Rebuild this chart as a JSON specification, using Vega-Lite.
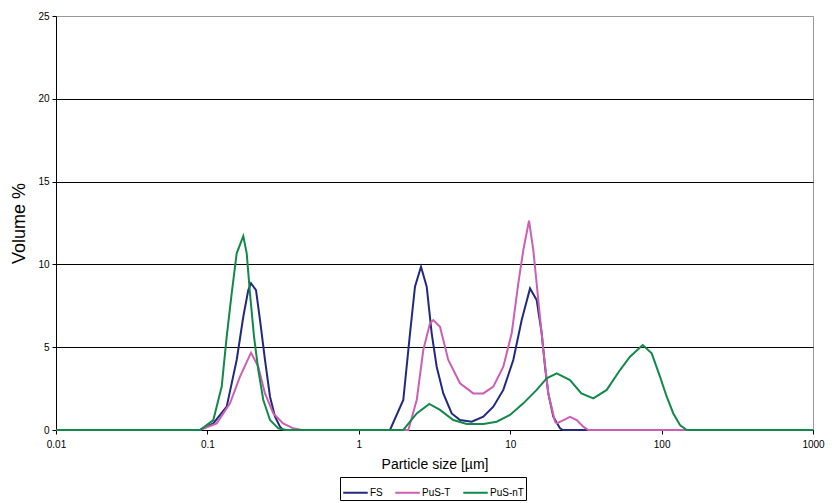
{
  "$schema": "https://vega.github.io/schema/vega-lite/v6.json",
  "autosize": "none",
  "padding": {"left": 56, "top": 16, "right": 21, "bottom": 73},
  "width": 757,
  "height": 414,
  "background": "white",
  "config": {
    "font": "Liberation Sans",
    "view": {"stroke": "#999999", "strokeWidth": 1}
  },
  "data": {"values": [
    {"x": 0.01, "y": 0, "s": "FS"}, {"x": 0.0894, "y": 0, "s": "FS"}, {"x": 0.1094, "y": 0.4, "s": "FS"}, {"x": 0.1341, "y": 1.41, "s": "FS"}, {"x": 0.1561, "y": 4.23, "s": "FS"}, {"x": 0.1726, "y": 6.84, "s": "FS"}, {"x": 0.1862, "y": 8.45, "s": "FS"}, {"x": 0.1941, "y": 8.86, "s": "FS"}, {"x": 0.2094, "y": 8.45, "s": "FS"}, {"x": 0.2226, "y": 6.64, "s": "FS"}, {"x": 0.2401, "y": 4.23, "s": "FS"}, {"x": 0.2592, "y": 2.01, "s": "FS"}, {"x": 0.2796, "y": 0.8, "s": "FS"}, {"x": 0.3016, "y": 0.2, "s": "FS"}, {"x": 0.3157, "y": 0, "s": "FS"},
    {"x": 1.607, "y": 0, "s": "FS"}, {"x": 1.967, "y": 1.81, "s": "FS"}, {"x": 2.179, "y": 5.84, "s": "FS"}, {"x": 2.35, "y": 8.65, "s": "FS"}, {"x": 2.575, "y": 9.86, "s": "FS"}, {"x": 2.809, "y": 8.65, "s": "FS"}, {"x": 3.03, "y": 5.84, "s": "FS"}, {"x": 3.269, "y": 3.82, "s": "FS"}, {"x": 3.615, "y": 2.21, "s": "FS"}, {"x": 4.107, "y": 1.0, "s": "FS"}, {"x": 4.66, "y": 0.6, "s": "FS"}, {"x": 5.568, "y": 0.5, "s": "FS"}, {"x": 6.643, "y": 0.8, "s": "FS"}, {"x": 7.734, "y": 1.41, "s": "FS"}, {"x": 9.005, "y": 2.42, "s": "FS"}, {"x": 10.48, "y": 4.23, "s": "FS"}, {"x": 11.91, "y": 6.64, "s": "FS"}, {"x": 13.52, "y": 8.55, "s": "FS"}, {"x": 14.96, "y": 7.85, "s": "FS"}, {"x": 16.15, "y": 5.84, "s": "FS"}, {"x": 16.98, "y": 3.82, "s": "FS"}, {"x": 17.85, "y": 2.21, "s": "FS"}, {"x": 19.26, "y": 0.8, "s": "FS"}, {"x": 21.33, "y": 0.1, "s": "FS"}, {"x": 22.32, "y": 0, "s": "FS"}, {"x": 1000, "y": 0, "s": "FS"},

    {"x": 0.01, "y": 0, "s": "PuS-T"}, {"x": 0.0894, "y": 0, "s": "PuS-T"}, {"x": 0.1151, "y": 0.4, "s": "PuS-T"}, {"x": 0.141, "y": 1.61, "s": "PuS-T"}, {"x": 0.1642, "y": 3.22, "s": "PuS-T"}, {"x": 0.1941, "y": 4.67, "s": "PuS-T"}, {"x": 0.2169, "y": 3.82, "s": "PuS-T"}, {"x": 0.2401, "y": 2.21, "s": "PuS-T"}, {"x": 0.2725, "y": 1.0, "s": "PuS-T"}, {"x": 0.3162, "y": 0.4, "s": "PuS-T"}, {"x": 0.3693, "y": 0.1, "s": "PuS-T"}, {"x": 0.4215, "y": 0, "s": "PuS-T"},
    {"x": 2.123, "y": 0, "s": "PuS-T"}, {"x": 2.413, "y": 1.81, "s": "PuS-T"}, {"x": 2.667, "y": 4.83, "s": "PuS-T"}, {"x": 2.953, "y": 6.44, "s": "PuS-T"}, {"x": 3.105, "y": 6.64, "s": "PuS-T"}, {"x": 3.438, "y": 6.24, "s": "PuS-T"}, {"x": 3.9, "y": 4.23, "s": "PuS-T"}, {"x": 4.66, "y": 2.82, "s": "PuS-T"}, {"x": 5.706, "y": 2.21, "s": "PuS-T"}, {"x": 6.643, "y": 2.21, "s": "PuS-T"}, {"x": 7.734, "y": 2.62, "s": "PuS-T"}, {"x": 9.005, "y": 3.82, "s": "PuS-T"}, {"x": 10.23, "y": 5.84, "s": "PuS-T"}, {"x": 11.31, "y": 8.86, "s": "PuS-T"}, {"x": 12.21, "y": 10.87, "s": "PuS-T"}, {"x": 13.31, "y": 12.64, "s": "PuS-T"}, {"x": 14.21, "y": 10.87, "s": "PuS-T"}, {"x": 15.33, "y": 7.85, "s": "PuS-T"}, {"x": 16.55, "y": 4.83, "s": "PuS-T"}, {"x": 17.85, "y": 2.21, "s": "PuS-T"}, {"x": 19.77, "y": 0.5, "s": "PuS-T"}, {"x": 20.28, "y": 0.4, "s": "PuS-T"}, {"x": 22.5, "y": 0.6, "s": "PuS-T"}, {"x": 24.83, "y": 0.8, "s": "PuS-T"}, {"x": 27.5, "y": 0.6, "s": "PuS-T"}, {"x": 30.39, "y": 0.2, "s": "PuS-T"}, {"x": 32.8, "y": 0, "s": "PuS-T"}, {"x": 1000, "y": 0, "s": "PuS-T"},

    {"x": 0.01, "y": 0, "s": "PuS-nT"}, {"x": 0.0894, "y": 0, "s": "PuS-nT"}, {"x": 0.1094, "y": 0.6, "s": "PuS-nT"}, {"x": 0.1243, "y": 2.62, "s": "PuS-nT"}, {"x": 0.1341, "y": 5.64, "s": "PuS-nT"}, {"x": 0.1447, "y": 8.25, "s": "PuS-nT"}, {"x": 0.1561, "y": 10.67, "s": "PuS-nT"}, {"x": 0.1726, "y": 11.71, "s": "PuS-nT"}, {"x": 0.1818, "y": 10.67, "s": "PuS-nT"}, {"x": 0.1911, "y": 8.25, "s": "PuS-nT"}, {"x": 0.2032, "y": 5.64, "s": "PuS-nT"}, {"x": 0.2169, "y": 3.62, "s": "PuS-nT"}, {"x": 0.234, "y": 1.81, "s": "PuS-nT"}, {"x": 0.2592, "y": 0.6, "s": "PuS-nT"}, {"x": 0.2939, "y": 0.1, "s": "PuS-nT"}, {"x": 0.3305, "y": 0, "s": "PuS-nT"},
    {"x": 1.967, "y": 0, "s": "PuS-nT"}, {"x": 2.413, "y": 1.0, "s": "PuS-nT"}, {"x": 2.922, "y": 1.57, "s": "PuS-nT"}, {"x": 3.438, "y": 1.21, "s": "PuS-nT"}, {"x": 4.209, "y": 0.6, "s": "PuS-nT"}, {"x": 5.161, "y": 0.36, "s": "PuS-nT"}, {"x": 6.643, "y": 0.36, "s": "PuS-nT"}, {"x": 8.143, "y": 0.5, "s": "PuS-nT"}, {"x": 9.97, "y": 0.91, "s": "PuS-nT"}, {"x": 12.21, "y": 1.61, "s": "PuS-nT"}, {"x": 14.96, "y": 2.42, "s": "PuS-nT"}, {"x": 17.42, "y": 3.12, "s": "PuS-nT"}, {"x": 20.28, "y": 3.42, "s": "PuS-nT"}, {"x": 24.83, "y": 3.02, "s": "PuS-nT"}, {"x": 29.5, "y": 2.21, "s": "PuS-nT"}, {"x": 35.39, "y": 1.91, "s": "PuS-nT"}, {"x": 43.39, "y": 2.42, "s": "PuS-nT"}, {"x": 53.12, "y": 3.62, "s": "PuS-nT"}, {"x": 61.83, "y": 4.43, "s": "PuS-nT"}, {"x": 75.04, "y": 5.13, "s": "PuS-nT"}, {"x": 86.02, "y": 4.63, "s": "PuS-nT"}, {"x": 97.59, "y": 3.22, "s": "PuS-nT"}, {"x": 108.1, "y": 2.01, "s": "PuS-nT"}, {"x": 119.5, "y": 1.0, "s": "PuS-nT"}, {"x": 132.3, "y": 0.3, "s": "PuS-nT"}, {"x": 146.5, "y": 0, "s": "PuS-nT"}, {"x": 1000, "y": 0, "s": "PuS-nT"}
  ]},
  "mark": {"type": "line", "strokeWidth": 2, "interpolate": "linear"},
  "encoding": {
    "x": {
      "field": "x", "type": "quantitative",
      "scale": {"type": "log", "domain": [0.01, 1000], "nice": false},
      "axis": {
        "values": [0.01, 0.1, 1, 10, 100, 1000],
        "format": "~g",
        "grid": false,
        "title": "Particle size [µm]",
        "titleFontSize": 14, "titleFontWeight": "normal", "titleColor": "black", "titlePadding": 8,
        "labelFontSize": 10, "labelColor": "black", "labelFlush": false, "labelPadding": 5,
        "domainColor": "black", "tickColor": "black", "tickSize": 4
      }
    },
    "y": {
      "field": "y", "type": "quantitative",
      "scale": {"domain": [0, 25], "nice": false},
      "axis": {
        "values": [0, 5, 10, 15, 20, 25],
        "grid": true,
        "gridColor": {"condition": {"test": "datum.value === 25", "value": "#999999"}, "value": "black"},
        "gridOpacity": 1,
        "title": "Volume %",
        "titleFontSize": 18, "titleFontWeight": "normal", "titleColor": "black", "titlePadding": 9,
        "labelFontSize": 10, "labelColor": "black", "labelPadding": 3,
        "domainColor": "black", "tickColor": "black", "tickSize": 4
      }
    },
    "color": {
      "field": "s", "type": "nominal",
      "sort": ["FS", "PuS-T", "PuS-nT"],
      "scale": {"domain": ["FS", "PuS-T", "PuS-nT"], "range": ["#23297f", "#cc5fb3", "#12894a"]},
      "legend": {
        "title": null,
        "orient": "none",
        "legendX": 284,
        "legendY": 461,
        "direction": "horizontal",
        "symbolType": "stroke",
        "symbolSize": 600,
        "symbolStrokeWidth": 2,
        "labelFontSize": 10,
        "labelColor": "black",
        "labelOffset": 1,
        "columnPadding": 8,
        "strokeColor": "black",
        "padding": 2,
        "fillColor": "white"
      }
    }
  }
}
